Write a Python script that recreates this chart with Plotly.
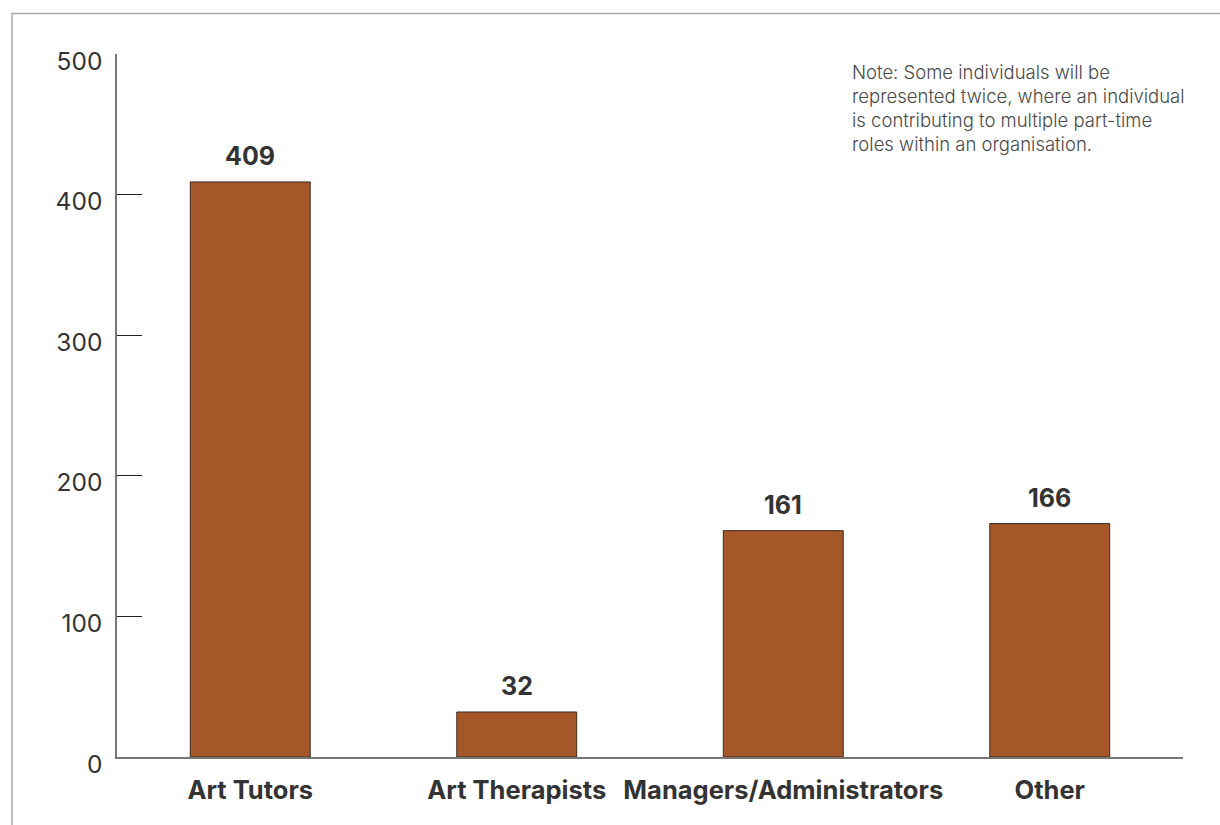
import plotly.graph_objects as go

# Part-time roles within organisations
categories = ["Art Tutors", "Art Therapists", "Managers/Administrators", "Other"]
counts = [409, 32, 161, 166]
y_ticks = [0, 100, 200, 300, 400, 500]
note_text = ("Note: Some individuals will be<br>represented twice, where an individual"
             "<br>is contributing to multiple part-time<br>roles within an organisation.")

BAR_COLOR = "#A6572A"
TEXT_COLOR = "#333333"
FONT = "Inter"

fig = go.Figure(
    go.Bar(
        x=categories,
        y=counts,
        marker=dict(color=BAR_COLOR, line=dict(color="#3a2a1e", width=1)),
        hoverinfo="x+y",
    )
)

# value labels above each bar
for cat, val in zip(categories, counts):
    fig.add_annotation(
        x=cat, y=val, text=str(val), showarrow=False,
        xanchor="center", yanchor="bottom", yshift=9,
        font=dict(family=FONT, size=25, color=TEXT_COLOR, weight="bold"),
    )

fig.add_annotation(
    xref="paper", yref="paper", x=0.6876, y=0.993,
    xanchor="left", yanchor="top", align="left", showarrow=False,
    text=note_text,
    font=dict(family=FONT, size=18.5, color="#4a4a4a", weight=300),
)

# outer frame
fig.add_shape(
    type="rect", xref="paper", yref="paper",
    x0=-0.0985, y0=-0.3, x1=1.2, y1=1.0577,
    line=dict(color="#aaaaaa", width=1.5), fillcolor="rgba(0,0,0,0)",
)

fig.update_layout(
    width=1220, height=825,
    margin=dict(l=117, r=37, t=54, b=68),
    paper_bgcolor="white", plot_bgcolor="white",
    bargap=0.55, showlegend=False,
    font=dict(family=FONT, color=TEXT_COLOR),
)
fig.update_xaxes(
    showline=True, linecolor="#777777", linewidth=1.5,
    showgrid=False, ticks="",
    tickfont=dict(family=FONT, size=25.5, color=TEXT_COLOR, weight="bold"),
    ticklabelstandoff=10,
)
fig.update_yaxes(
    range=[0, 500], tickvals=y_ticks,
    showline=True, linecolor="#777777", linewidth=1.5,
    showgrid=False, zeroline=False,
    ticks="inside", ticklen=25, tickcolor="#222222", tickwidth=1,
    tickfont=dict(family=FONT, size=24.5, color=TEXT_COLOR, weight=400),
    ticklabelstandoff=8, ticklabelshift=7,
)

fig.write_html("out.html")
